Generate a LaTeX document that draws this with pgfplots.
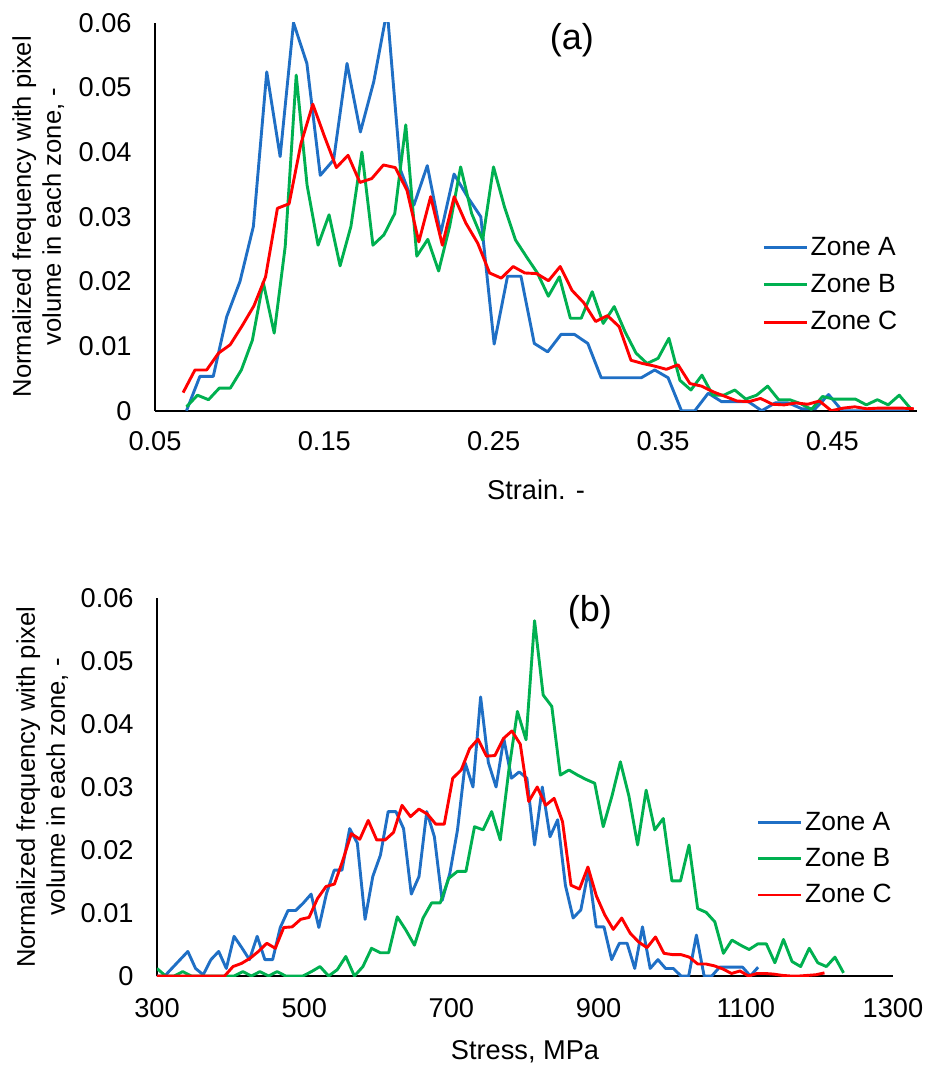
\documentclass[border=0pt]{standalone}
\usepackage{fontspec}
\setmainfont{Liberation Sans}
\usepackage{pgfplots}
\pgfplotsset{compat=1.18}
\definecolor{zA}{RGB}{31,111,197}
\definecolor{zB}{RGB}{0,176,80}
\definecolor{zC}{RGB}{255,0,0}
\newcommand{\lbl}{\fontsize{12.8}{15}\selectfont}
\newcommand{\tck}{\fontsize{13.6}{16}\selectfont}
\newcommand{\lgd}{\fontsize{13.2}{16}\selectfont}
\pgfplotsset{
  myaxis/.style={
    scale only axis,
    axis x line*=bottom, axis y line*=left,
    axis line style={line width=1.15pt, black, -},
    major tick length=0pt,
    tick style={draw=none},
    scaled ticks=false,
    tick label style={font=\tck},
    yticklabel style={anchor=east, inner sep=0pt, xshift=-11.5pt},
    ymin=0, ymax=0.06,
    ytick={0,0.01,0.02,0.03,0.04,0.05,0.06},
    yticklabels={0,0.01,0.02,0.03,0.04,0.05,0.06},
    ylabel style={font=\lbl},
    xlabel style={font=\tck},
    ylabel={Normalized frequency with pixel\\volume in each zone, -},
    legend style={draw=none, fill=none, font=\lgd, inner sep=0pt, outer sep=0pt, nodes={inner sep=1.25pt}},
    legend cell align=left,
    legend image code/.code={\draw[##1] (0pt,0pt) -- (21.5pt,0pt);},
  },
  ln/.style={line width=1.45pt, line join=round},
}
\begin{document}
\begin{tikzpicture}
\useasboundingbox (0,0) rectangle (463pt,-536pt);
% ---------------- (a) ----------------
\begin{axis}[myaxis,
  at={(77.5pt,-205.35pt)}, anchor=south west,
  width=381pt, height=194pt,
  xmin=0.05, xmax=0.5,
  xtick={0.05,0.15,0.25,0.35,0.45},
  xticklabels={0.05,0.15,0.25,0.35,0.45},
  xticklabel style={anchor=north, inner sep=0pt, yshift=-10.2pt},
  xlabel={Strain. -},
  xlabel style={at={(axis description cs:0.5,-0.2276)}, anchor=base},
  ylabel style={at={(axis description cs:-0.110,0.5)}, anchor=south, align=center},
  title={(a)},
  title style={at={(axis description cs:0.547,0.925)}, anchor=center, font=\fontsize{18}{20}\selectfont},
  legend style={at={(axis description cs:0.797,0.324)}, anchor=west, row sep=5.5pt},
]
\addplot[ln, color=zA] table {
0.0686 0
0.0765 0.0053
0.0844 0.0053
0.0923 0.0145
0.1002 0.0200
0.1081 0.0285
0.1160 0.0524
0.1239 0.0393
0.1318 0.0600
0.1397 0.0537
0.1476 0.0364
0.1555 0.0388
0.1634 0.0537
0.1713 0.0431
0.1792 0.0509
0.1871 0.0620
0.1950 0.0372
0.2029 0.0318
0.2108 0.0379
0.2187 0.0274
0.2266 0.0366
0.2345 0.0331
0.2424 0.0300
0.2503 0.0103
0.2582 0.0208
0.2661 0.0208
0.2740 0.0104
0.2819 0.0091
0.2898 0.0118
0.2977 0.0118
0.3056 0.0104
0.3135 0.0051
0.3214 0.0051
0.3293 0.0051
0.3372 0.0051
0.3451 0.0063
0.3530 0.0051
0.3609 0
0.3688 0
0.3767 0.0027
0.3846 0.0014
0.3925 0.0014
0.4004 0.0014
0.4083 0
0.4162 0.0012
0.4241 0.0012
0.4320 0.0003
0.4399 0.0003
0.4478 0.0025
0.4557 0
0.4636 0
0.4715 0
0.4794 0
0.4873 0
0.4952 0
};
\addlegendentry{Zone A}
\addplot[ln, color=zB] table {
0.0686 0.0006
0.0751 0.0024
0.0816 0.0017
0.0880 0.0035
0.0945 0.0035
0.1010 0.0063
0.1075 0.0109
0.1139 0.0199
0.1204 0.0120
0.1269 0.0254
0.1334 0.0519
0.1398 0.0349
0.1463 0.0256
0.1528 0.0303
0.1593 0.0224
0.1657 0.0285
0.1722 0.0400
0.1787 0.0256
0.1852 0.0272
0.1916 0.0305
0.1981 0.0442
0.2046 0.0239
0.2111 0.0265
0.2175 0.0216
0.2240 0.0285
0.2305 0.0377
0.2370 0.0305
0.2435 0.0264
0.2499 0.0377
0.2564 0.0315
0.2629 0.0264
0.2694 0.0238
0.2758 0.0213
0.2823 0.0177
0.2888 0.0207
0.2953 0.0143
0.3017 0.0143
0.3082 0.0184
0.3147 0.0135
0.3212 0.0161
0.3276 0.0122
0.3341 0.0089
0.3406 0.0073
0.3471 0.0081
0.3535 0.0112
0.3600 0.0047
0.3665 0.0032
0.3730 0.0055
0.3794 0.0024
0.3859 0.0024
0.3924 0.0032
0.3989 0.0018
0.4053 0.0024
0.4118 0.0038
0.4183 0.0017
0.4248 0.0017
0.4312 0.0011
0.4377 0.0002
0.4442 0.0022
0.4507 0.0018
0.4571 0.0018
0.4636 0.0018
0.4701 0.0009
0.4766 0.0017
0.4830 0.0009
0.4895 0.0024
0.4960 0.0004
};
\addlegendentry{Zone B}
\addplot[ln, color=zC] table {
0.0666 0.0028
0.0736 0.0063
0.0805 0.0063
0.0875 0.0089
0.0944 0.0102
0.1014 0.0131
0.1084 0.0162
0.1153 0.0207
0.1223 0.0313
0.1292 0.0320
0.1362 0.0413
0.1432 0.0474
0.1501 0.0424
0.1571 0.0376
0.1640 0.0395
0.1710 0.0353
0.1780 0.0359
0.1849 0.0380
0.1919 0.0376
0.1988 0.0341
0.2058 0.0261
0.2128 0.0331
0.2197 0.0256
0.2267 0.0331
0.2336 0.0290
0.2406 0.0259
0.2476 0.0213
0.2545 0.0205
0.2615 0.0223
0.2684 0.0213
0.2754 0.0212
0.2824 0.0201
0.2893 0.0223
0.2963 0.0186
0.3032 0.0167
0.3102 0.0138
0.3172 0.0147
0.3241 0.0130
0.3311 0.0078
0.3380 0.0073
0.3450 0.0069
0.3520 0.0064
0.3589 0.0071
0.3659 0.0042
0.3728 0.0038
0.3798 0.0029
0.3868 0.0022
0.3937 0.0015
0.4007 0.0014
0.4076 0.0019
0.4146 0.0010
0.4216 0.0009
0.4285 0.0012
0.4355 0.0010
0.4424 0.0015
0.4494 0.0000
0.4564 0.0004
0.4633 0.0006
0.4703 0.0003
0.4772 0.0004
0.4842 0.0004
0.4912 0.0004
0.4981 0.0003
};
\addlegendentry{Zone C}
\end{axis}
% ---------------- (b) ----------------
\begin{axis}[myaxis,
  at={(78.5pt,-488pt)}, anchor=south west,
  width=368pt, height=189pt,
  xmin=300, xmax=1300,
  xtick={300,500,700,900,1100,1300},
  xticklabels={300,500,700,900,1100,1300},
  xticklabel style={anchor=north, inner sep=0pt, yshift=-11pt},
  xlabel={Stress, MPa},
  xlabel style={at={(axis description cs:0.5,-0.22)}, anchor=base},
  ylabel style={at={(axis description cs:-0.111,0.5)}, anchor=south, align=center},
  title={(b)},
  title style={at={(axis description cs:0.588,0.93)}, anchor=center, font=\fontsize{18}{20}\selectfont},
  legend style={at={(axis description cs:0.815,0.310)}, anchor=west, row sep=5pt},
]
\addplot[ln, color=zA] table {
300.0 0
310.5 0.0000
320.9 0.0013
331.4 0.0026
341.9 0.0039
352.4 0.0012
362.8 0.0002
373.3 0.0026
383.8 0.0039
394.2 0.0012
404.7 0.0063
415.2 0.0045
425.6 0.0026
436.1 0.0063
446.6 0.0026
457.1 0.0026
467.5 0.0077
478.0 0.0104
488.5 0.0104
498.9 0.0116
509.4 0.0130
519.9 0.0077
530.3 0.0131
540.8 0.0168
551.3 0.0168
561.8 0.0234
572.2 0.0211
582.7 0.0090
593.2 0.0158
603.6 0.0192
614.1 0.0261
624.6 0.0261
635.0 0.0234
645.5 0.0130
656.0 0.0158
666.5 0.0261
676.9 0.0221
687.4 0.0120
697.9 0.0163
708.3 0.0232
718.8 0.0338
729.3 0.0300
739.7 0.0443
750.2 0.0339
760.7 0.0300
771.2 0.0377
781.6 0.0314
792.1 0.0324
802.6 0.0314
813.0 0.0208
823.5 0.0300
834.0 0.0221
844.4 0.0248
854.9 0.0144
865.4 0.0092
875.9 0.0105
886.3 0.0168
896.8 0.0078
907.3 0.0078
917.7 0.0026
928.2 0.0052
938.7 0.0052
949.1 0.0012
959.6 0.0078
970.1 0.0012
980.6 0.0026
991.0 0.0012
1001.5 0.0012
1012.0 0.0000
1022.4 0.0000
1032.9 0.0065
1043.4 0.0000
1053.8 0.0000
1064.3 0.0014
1074.8 0.0014
1085.3 0.0014
1095.7 0.0014
1106.2 0.0000
1116.7 0.0014
};
\addlegendentry{Zone A}
\addplot[ln, color=zB] table {
300.0 0.0012
311.7 0.0000
323.3 0.0000
335.0 0.0007
346.6 0.0000
358.3 0.0000
370.0 0.0000
381.6 0.0000
393.3 0.0000
404.9 0.0000
416.6 0.0007
428.3 0.0000
439.9 0.0007
451.6 0.0000
463.2 0.0007
474.9 0.0000
486.6 0.0000
498.2 0.0000
509.9 0.0007
521.5 0.0015
533.2 0.0000
544.9 0.0010
556.5 0.0031
568.2 0.0000
579.8 0.0015
591.5 0.0044
603.2 0.0037
614.8 0.0037
626.5 0.0094
638.1 0.0073
649.8 0.0049
661.5 0.0092
673.1 0.0116
684.8 0.0116
696.4 0.0155
708.1 0.0166
719.8 0.0166
731.4 0.0237
743.1 0.0232
754.7 0.0261
766.4 0.0216
778.1 0.0327
789.7 0.0420
801.4 0.0375
813.0 0.0564
824.7 0.0446
836.4 0.0428
848.0 0.0319
859.7 0.0327
871.3 0.0319
883.0 0.0312
894.7 0.0306
906.3 0.0237
918.0 0.0285
929.6 0.0340
941.3 0.0285
953.0 0.0208
964.6 0.0295
976.3 0.0232
987.9 0.0250
999.6 0.0151
1011.3 0.0151
1022.9 0.0208
1034.6 0.0107
1046.2 0.0101
1057.9 0.0086
1069.6 0.0036
1081.2 0.0057
1092.9 0.0049
1104.5 0.0042
1116.2 0.0051
1127.9 0.0051
1139.5 0.0021
1151.2 0.0058
1162.8 0.0023
1174.5 0.0015
1186.2 0.0044
1197.8 0.0021
1209.5 0.0015
1221.1 0.0030
1232.8 0.0005
};
\addlegendentry{Zone B}
\addplot[ln, color=zC] table {
300.0 0
311.5 0
323.0 0
334.4 0
345.9 0
357.4 0
368.9 0
380.4 0
391.8 0
403.3 0.0015
414.8 0.0020
426.3 0.0028
437.8 0.0039
449.2 0.0052
460.7 0.0044
472.2 0.0077
483.7 0.0078
495.2 0.0090
506.6 0.0093
518.1 0.0123
529.6 0.0142
541.1 0.0146
552.6 0.0184
564.0 0.0226
575.5 0.0217
587.0 0.0247
598.5 0.0216
610.0 0.0216
621.4 0.0228
632.9 0.0271
644.4 0.0253
655.9 0.0265
667.4 0.0257
678.8 0.0241
690.3 0.0241
701.8 0.0314
713.3 0.0327
724.8 0.0361
736.2 0.0376
747.7 0.0349
759.2 0.0350
770.7 0.0377
782.2 0.0389
793.6 0.0368
805.1 0.0277
816.6 0.0300
828.1 0.0271
839.6 0.0282
851.0 0.0245
862.5 0.0144
874.0 0.0138
885.5 0.0173
897.0 0.0127
908.4 0.0097
919.9 0.0074
931.4 0.0092
942.9 0.0068
954.4 0.0054
965.8 0.0045
977.3 0.0062
988.8 0.0036
1000.3 0.0034
1011.8 0.0034
1023.2 0.0030
1034.7 0.0019
1046.2 0.0019
1057.7 0.0016
1069.2 0.0011
1080.6 0.0004
1092.1 0.0008
1103.6 0.0000
1115.1 0.0004
1126.6 0.0004
1138.0 0.0003
1149.5 0.0001
1161.0 0.0000
1172.5 0.0000
1184.0 0.0001
1195.4 0.0002
1206.9 0.0005
};
\addlegendentry{Zone C}
\end{axis}
\end{tikzpicture}
\end{document}
